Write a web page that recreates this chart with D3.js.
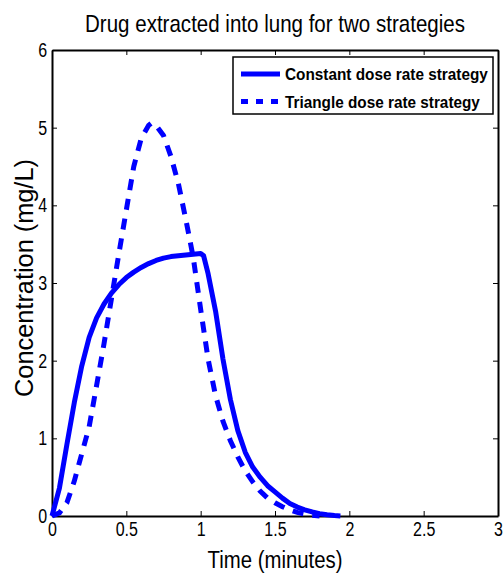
<!DOCTYPE html>
<meta charset="utf-8">
<style>
body { margin: 0; background: #fff; }
text { font-family: "Liberation Sans", Arial, Helvetica, sans-serif; fill: #000; }
.axis path, .axis line { stroke: #000; }
.axis text { font-size: 20px; }
.legend-label { font-size: 17px; font-weight: bold; }
</style>
<body>
<script src="https://d3js.org/d3.v7.min.js"></script>
<script>
var w = 504, h = 581;
var margin = {top: 50, right: 6, bottom: 65, left: 52};

// constant dose rate strategy (solid)
var constTime = [0, 0.05, 0.1, 0.15, 0.2, 0.25, 0.3, 0.35, 0.4, 0.45, 0.5, 0.55, 0.6, 0.65, 0.7,
                 0.75, 0.8, 0.85, 0.9, 0.95, 1.0, 1.02, 1.05, 1.1, 1.15, 1.2, 1.25, 1.3, 1.35, 1.4,
                 1.45, 1.5, 1.55, 1.6, 1.65, 1.7, 1.75, 1.8, 1.85, 1.9, 1.94];
var constConc = [0, 0.36, 0.92, 1.46, 1.93, 2.3, 2.55, 2.73, 2.87, 2.98, 3.07, 3.14, 3.2, 3.25, 3.29,
                 3.32, 3.34, 3.35, 3.36, 3.37, 3.38, 3.35, 3.12, 2.64, 2.02, 1.5, 1.1, 0.82, 0.63, 0.5,
                 0.39, 0.31, 0.23, 0.16, 0.115, 0.08, 0.052, 0.03, 0.016, 0.006, 0];

// triangle dose rate strategy (dashed)
var triTime = [0, 0.05, 0.1, 0.15, 0.2, 0.25, 0.3, 0.35, 0.4, 0.45, 0.5, 0.55, 0.6, 0.65, 0.67, 0.7,
               0.75, 0.8, 0.85, 0.9, 0.95, 1.0, 1.05, 1.1, 1.15, 1.2, 1.25, 1.3, 1.35, 1.4, 1.45,
               1.5, 1.55, 1.6, 1.65, 1.7, 1.75, 1.8];
var triConc = [0, 0.04, 0.17, 0.45, 0.8, 1.15, 1.68, 2.22, 2.8, 3.38, 3.94, 4.5, 4.86, 5.03, 5.06, 5.03,
               4.9, 4.63, 4.28, 3.82, 3.33, 2.66, 2.02, 1.55, 1.22, 0.97, 0.76, 0.58, 0.44, 0.32, 0.23,
               0.17, 0.12, 0.078, 0.046, 0.025, 0.01, 0];

var xTicks = [0, 0.5, 1, 1.5, 2, 2.5, 3];
var yTicks = [0, 1, 2, 3, 4, 5, 6];
var seriesNames = ["Constant dose rate strategy", "Triangle dose rate strategy"];

var svg = d3.select("body").append("svg")
            .attr("width", w)
            .attr("height", h);

var x = d3.scaleLinear().domain([0, 3]).range([margin.left, w - margin.right]);
var y = d3.scaleLinear().domain([0, 6]).range([h - margin.bottom, margin.top]);

// narrow the text horizontally (the original font is condensed)
function squeeze(sel, px, py, target, rot) {
    var len = sel.node().getComputedTextLength();
    var k = target / len;
    sel.attr("transform", "translate(" + px + "," + py + ")" + (rot ? " rotate(" + rot + ")" : "") + " scale(" + k + ",1)");
}

// axes, ticks point inward
var gx = svg.append("g").attr("class", "axis")
    .attr("transform", "translate(0," + y(0) + ")")
    .call(d3.axisBottom(x).tickValues(xTicks).tickFormat(d3.format("")).tickSizeInner(-5).tickSizeOuter(0).tickPadding(6));
var gy = svg.append("g").attr("class", "axis")
    .attr("transform", "translate(" + x(0) + ",0)")
    .call(d3.axisLeft(y).tickValues(yTicks).tickFormat(d3.format("")).tickSizeInner(-5).tickSizeOuter(0).tickPadding(5));
svg.append("g").attr("class", "axis")
    .attr("transform", "translate(0," + y(6) + ")")
    .call(d3.axisTop(x).tickValues(xTicks).tickFormat("").tickSizeInner(-5).tickSizeOuter(0));
svg.append("g").attr("class", "axis")
    .attr("transform", "translate(" + x(3) + ",0)")
    .call(d3.axisRight(y).tickValues(yTicks).tickFormat("").tickSizeInner(-5).tickSizeOuter(0));

svg.selectAll(".axis path").attr("stroke-width", 2);
svg.selectAll(".axis line").attr("stroke-width", 1);
gx.selectAll("text").attr("transform", "scale(0.8,1)");
gy.selectAll("text").attr("x", -6).attr("transform", "scale(0.8,1)");

// curves
var line = d3.line()
    .x(function(d) { return x(d[0]); })
    .y(function(d) { return y(d[1]); });

svg.append("path")
    .datum(d3.zip(constTime, constConc))
    .attr("d", line)
    .attr("fill", "none")
    .attr("stroke", "#0000ff")
    .attr("stroke-width", 5)
    .attr("stroke-linejoin", "round");

svg.append("path")
    .datum(d3.zip(triTime, triConc))
    .attr("d", line)
    .attr("fill", "none")
    .attr("stroke", "#0000ff")
    .attr("stroke-width", 5)
    .attr("stroke-dasharray", "11,9");

// title and axis labels
svg.append("text")
    .attr("text-anchor", "middle")
    .style("font-size", "24px")
    .text("Drug extracted into lung for two strategies")
    .call(squeeze, (x(0) + x(3)) / 2, 32, 380);

svg.append("text")
    .attr("text-anchor", "middle")
    .style("font-size", "24px")
    .text("Time (minutes)")
    .call(squeeze, (x(0) + x(3)) / 2, 568, 135);

svg.append("text")
    .attr("text-anchor", "middle")
    .style("font-size", "26px")
    .text("Concentration (mg/L)")
    .call(squeeze, 33, 278, 238, -90);

// legend
var legend = svg.append("g").attr("class", "legend");
legend.append("rect")
    .attr("x", 233).attr("y", 57)
    .attr("width", 260).attr("height", 57)
    .attr("fill", "#fff")
    .attr("stroke", "#000")
    .attr("stroke-width", 1.5);

var legendRows = legend.selectAll(".row")
    .data(seriesNames)
    .enter().append("g")
    .attr("class", "row")
    .attr("transform", function(d, i) { return "translate(241," + (74 + i * 27.5) + ")"; });

legendRows.append("line")
    .attr("x1", 0).attr("x2", 39)
    .attr("stroke", "#0000ff")
    .attr("stroke-width", 5)
    .attr("stroke-dasharray", function(d, i) { return i ? "7,8" : null; });

legendRows.append("text")
    .attr("class", "legend-label")
    .text(function(d) { return d; })
    .each(function(d, i) { d3.select(this).call(squeeze, 44, 6, i ? 195 : 203); });
</script>
</body>
